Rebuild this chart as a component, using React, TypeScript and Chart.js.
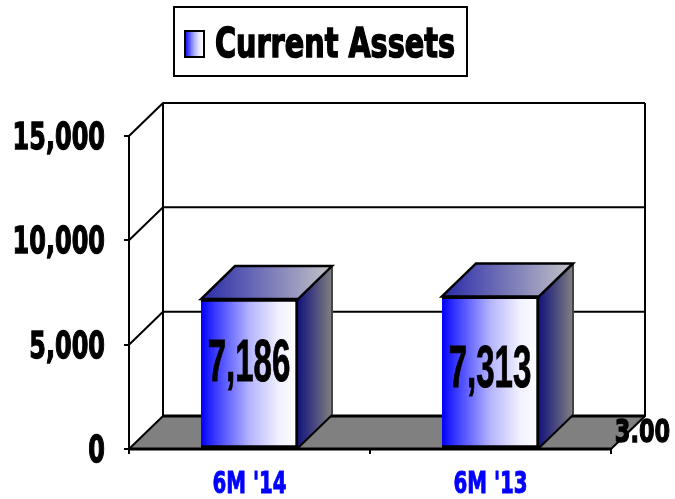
import React, { useEffect, useRef } from "react";
import { Chart, registerables } from "chart.js";

Chart.register(...registerables);

const categories = ["6M '14", "6M '13"];
const values = [7186, 7313];
const valueLabels = ["7,186", "7,313"];
const seriesName = "Current Assets";
const yMax = 15000;
const yStep = 5000;
const strayLabel = "3.00";

const DX = 34;
const DY = -33;
const FACE: [number, string][] = [[0, "#0000ff"], [0.12, "#3030ff"], [0.5, "#b4b4ff"], [0.8, "#f0f0ff"], [1, "#ffffff"]];

function hGrad(ctx: CanvasRenderingContext2D, x0: number, x1: number, stops: [number, string][]) {
  const g = ctx.createLinearGradient(x0, 0, x1, 0);
  stops.forEach(([p, c]) => g.addColorStop(p, c));
  return g;
}

function squeezed(
  ctx: CanvasRenderingContext2D,
  t: string,
  x: number,
  baseline: number,
  size: number,
  sx: number,
  opts: { color?: string; family?: string; align?: CanvasTextAlign; bold?: number } = {}
) {
  const { color = "#000", family = "'DejaVu Sans'", align = "center", bold = 1.2 } = opts;
  ctx.save();
  ctx.translate(x, baseline);
  ctx.scale(sx, 1);
  ctx.font = `bold ${size}px ${family}`;
  ctx.fillStyle = color;
  ctx.strokeStyle = color;
  ctx.lineWidth = bold;
  ctx.textAlign = align;
  ctx.textBaseline = "alphabetic";
  ctx.fillText(t, 0, 0);
  if (bold > 0) ctx.strokeText(t, 0, 0);
  ctx.restore();
}

const threeD = {
  id: "threeD",
  beforeDatasetsDraw(chart: any) {
    const { ctx, chartArea: a, scales } = chart;
    const y = scales.y;
    ctx.save();
    ctx.strokeStyle = "#000";
    ctx.lineWidth = 2;
    ctx.fillStyle = "#808080";
    ctx.beginPath();
    ctx.moveTo(a.left, a.bottom);
    ctx.lineTo(a.left + DX, a.bottom + DY);
    ctx.lineTo(a.right + DX, a.bottom + DY);
    ctx.lineTo(a.right, a.bottom);
    ctx.closePath();
    ctx.fill();
    ctx.beginPath();
    y.ticks.forEach((_: any, i: number) => {
      const p = y.getPixelForTick(i);
      ctx.moveTo(a.left, p);
      ctx.lineTo(a.left + DX, p + DY);
      ctx.lineTo(a.right + DX, p + DY);
    });
    ctx.moveTo(a.left + DX, a.top + DY);
    ctx.lineTo(a.left + DX, a.bottom + DY);
    ctx.moveTo(a.right + DX, a.top + DY);
    ctx.lineTo(a.right + DX, a.bottom + DY);
    ctx.lineTo(a.right, a.bottom);
    ctx.stroke();
    ctx.lineWidth = 3;
    ctx.beginPath();
    ctx.moveTo(a.left + DX, a.bottom + DY);
    ctx.lineTo(a.right + DX, a.bottom + DY);
    ctx.stroke();
    const meta = chart.getDatasetMeta(0);
    meta.data.forEach((bar: any) => {
      const l = bar.x - bar.width / 2;
      const r = bar.x + bar.width / 2;
      const t = bar.y;
      const b = bar.base;
      ctx.fillStyle = hGrad(ctx, r, r + DX, [[0, "#14147c"], [1, "#808080"]]);
      ctx.beginPath();
      ctx.moveTo(r, t);
      ctx.lineTo(r + DX, t + DY);
      ctx.lineTo(r + DX, b + DY);
      ctx.lineTo(r, b);
      ctx.closePath();
      ctx.fill();
      ctx.strokeStyle = "#444";
      ctx.lineWidth = 2;
      ctx.beginPath();
      ctx.moveTo(r + DX, t + DY);
      ctx.lineTo(r + DX, b + DY);
      ctx.stroke();
      ctx.strokeStyle = "#000";
      ctx.beginPath();
      ctx.moveTo(r + DX, b + DY);
      ctx.lineTo(r, b);
      ctx.stroke();
      ctx.fillStyle = hGrad(ctx, l, r + DX, [[0, "#2a2aa8"], [1, "#c4c4c8"]]);
      ctx.beginPath();
      ctx.moveTo(l, t);
      ctx.lineTo(l + DX, t + DY);
      ctx.lineTo(r + DX, t + DY);
      ctx.lineTo(r, t);
      ctx.closePath();
      ctx.fill();
      ctx.lineWidth = 2.5;
      ctx.stroke();
    });
    ctx.restore();
  },
  afterDatasetsDraw(chart: any) {
    const { ctx, chartArea: a, scales } = chart;
    const meta = chart.getDatasetMeta(0);
    meta.data.forEach((bar: any, i: number) => {
      squeezed(ctx, valueLabels[i], bar.x - 0.5, i === 0 ? 381 : 387, 59, 0.56, { family: "'Liberation Sans'", bold: 1 });
    });
    squeezed(ctx, strayLabel, a.right + 31.5, 442, 32, 0.7, { bold: 1.4 });
    ctx.save();
    ctx.strokeStyle = "#000";
    ctx.lineWidth = 3;
    ctx.beginPath();
    ctx.moveTo(a.left, a.bottom);
    ctx.lineTo(a.right, a.bottom);
    ctx.stroke();
    ctx.restore();
    scales.y.ticks.forEach((tk: any, i: number) => {
      squeezed(ctx, tk.label, 105, scales.y.getPixelForTick(i) + 13, 38, 0.63, { align: "right", bold: 1.4 });
    });
    scales.x.ticks.forEach((tk: any, i: number) => {
      squeezed(ctx, tk.label, scales.x.getPixelForTick(i), 493, 31, 0.64, { color: "#0000ff", bold: 1 });
    });
    const L = 174, T = 7, W = 293, H = 69;
    ctx.save();
    ctx.fillStyle = "#fff";
    ctx.strokeStyle = "#000";
    ctx.lineWidth = 2;
    ctx.fillRect(L, T, W, H);
    ctx.strokeRect(L, T, W, H);
    ctx.fillStyle = hGrad(ctx, 185, 204, FACE);
    ctx.fillRect(185, 31, 19, 26);
    ctx.strokeRect(185, 31, 19, 26);
    ctx.restore();
    squeezed(ctx, chart.data.datasets[0].label, 335, 57, 41, 0.7, { bold: 1.6 });
  },
};

export default function App() {
  const ref = useRef<HTMLCanvasElement>(null);
  useEffect(() => {
    const chart = new Chart(ref.current!, {
      type: "bar",
      data: {
        labels: categories,
        datasets: [
          {
            label: seriesName,
            data: values,
            barThickness: 97,
            borderColor: "#000",
            borderWidth: 3,
            borderSkipped: "left",
            backgroundColor: (c: any) => {
              const { chart: ch, dataIndex } = c;
              if (!ch.chartArea) return "#00f";
              const mid = ch.scales.x.getPixelForValue(dataIndex);
              return hGrad(ch.ctx, mid - 48.5, mid + 48.5, FACE);
            },
          },
        ],
      },
      options: {
        responsive: false,
        animation: false,
        layout: { padding: { top: 136, right: 64, left: 0, bottom: 0 } },
        plugins: { legend: { display: false }, title: { display: false }, tooltip: { enabled: false } },
        scales: {
          x: {
            offset: true,
            afterFit: (s: any) => { s.height = 50; },
            border: { display: true, color: "#000", width: 2 },
            grid: { display: true, drawOnChartArea: false, drawTicks: true, tickLength: 5, color: "#000", lineWidth: 2, offset: true },
            ticks: { display: false },
          },
          y: {
            min: 0,
            max: yMax,
            afterFit: (s: any) => { s.width = 129; },
            border: { display: true, color: "#000", width: 2 },
            grid: { display: true, drawOnChartArea: false, drawTicks: true, tickLength: 5, color: "#000", lineWidth: 2 },
            ticks: {
              display: false,
              stepSize: yStep,
              callback: (v: any) => Number(v).toLocaleString("en-US"),
            },
          },
        },
      },
      plugins: [threeD],
    } as any);
    return () => chart.destroy();
  }, []);
  return (
    <canvas
      ref={ref}
      width={675}
      height={499}
      style={{ position: "absolute", left: 0, top: 0, width: 675, height: 499, display: "block" }}
    />
  );
}
